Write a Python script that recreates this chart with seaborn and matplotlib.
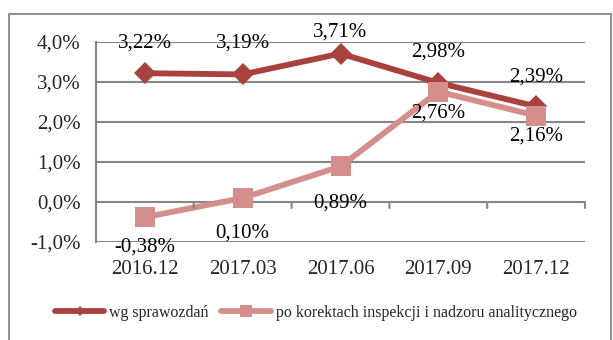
import matplotlib
matplotlib.use("Agg")
import matplotlib.pyplot as plt
import seaborn as sns
import pandas as pd
from matplotlib.patches import Rectangle
from matplotlib.lines import Line2D

periods = ["2016.12", "2017.03", "2017.06", "2017.09", "2017.12"]
wg_sprawozdan = [3.22, 3.19, 3.71, 2.98, 2.39]
po_korektach = [-0.38, 0.10, 0.89, 2.76, 2.16]
series_names = ["wg sprawozdań", "po korektach inspekcji i nadzoru analitycznego"]
y_ticks = [-1.0, 0.0, 1.0, 2.0, 3.0, 4.0]

# label offsets (pixels) above / below each point
off_top = [30, 31, 22, 31, 29]
off_bot = [-30, -35, -37, -21, -20]

sns.set_theme(style="white")
plt.rcParams["font.family"] = ["Liberation Serif", "DejaVu Serif"]

dark = "#A8423F"
light = "#D48F8C"
grid_c = "#868686"

df = pd.DataFrame({
    "idx": list(range(len(periods))) * 2,
    "value": wg_sprawozdan + po_korektach,
    "series": [series_names[0]] * len(periods) + [series_names[1]] * len(periods),
})

fig = plt.figure(figsize=(6.13, 3.40), dpi=100)
fig.patch.set_facecolor("white")
fig.patches.append(Rectangle((8.5 / 613, -0.2), 602.5 / 613, 1.2 - 13.5 / 340,
                             transform=fig.transFigure, fill=False,
                             edgecolor=grid_c, linewidth=1.3))
ax = fig.add_axes([96 / 613, 1 - 242 / 340, (585 - 96) / 613, 200 / 340])

sns.lineplot(data=df, x="idx", y="value", hue="series", style="series",
             palette=[dark, light], markers=["D", "s"], dashes=False,
             markersize=11, linewidth=4.2, markeredgewidth=0, ax=ax,
             legend=False)
# square markers are a bit larger
for ln, ms in zip(ax.get_lines(), [11, 14]):
    ln.set_markersize(ms)

fs = 15
ax.set_xlim(-0.5, len(periods) - 0.5)
ax.set_ylim(y_ticks[0], y_ticks[-1])
ax.set_yticks(y_ticks)
ax.set_yticklabels([f"{v:.1f}%".replace(".", ",") for v in y_ticks], fontsize=fs)
ax.set_xticks(range(len(periods)))
ax.set_xticklabels(periods, fontsize=fs)
ax.tick_params(axis="x", length=0, pad=13)
ax.tick_params(axis="y", length=6, width=1.3, color=grid_c, direction="out", pad=5)
ax.set_xlabel("")
ax.set_ylabel("")
for sp in ["top", "right", "bottom"]:
    ax.spines[sp].set_visible(False)
ax.spines["left"].set_color(grid_c)
ax.spines["left"].set_linewidth(1.5)

for v in y_ticks:
    ax.axhline(v, color=grid_c, linewidth=1.5, zorder=0)
# category tick marks on the zero line
for b in [i + 0.5 for i in range(len(periods))]:
    ax.annotate("", xy=(b, 0), xytext=(0, -6), textcoords="offset pixels",
                xycoords="data",
                arrowprops=dict(arrowstyle="-", color=grid_c, lw=1.5,
                                shrinkA=0, shrinkB=0))

for i, v in enumerate(wg_sprawozdan):
    ax.annotate(f"{v:.2f}%".replace(".", ","), (i, v), xytext=(0, off_top[i]),
                textcoords="offset pixels", ha="center", va="center", fontsize=fs,
                color="black", annotation_clip=False)
for i, v in enumerate(po_korektach):
    ax.annotate(f"{v:.2f}%".replace(".", ","), (i, v), xytext=(0, off_bot[i]),
                textcoords="offset pixels", ha="center", va="center", fontsize=fs,
                color="black", annotation_clip=False)

handles = [Line2D([], [], color=dark, lw=4.2, marker="D", markersize=5, markeredgewidth=0),
           Line2D([], [], color=light, lw=4.2, marker="s", markersize=8, markeredgewidth=0)]
fig.legend(handles, series_names, loc="center", bbox_to_anchor=(0.515, 1 - 313 / 340),
           ncol=2, frameon=False, fontsize=11.5, handlelength=3.1, handletextpad=0.3,
           columnspacing=0.8)

fig.savefig("out.png", dpi=100, facecolor="white")
